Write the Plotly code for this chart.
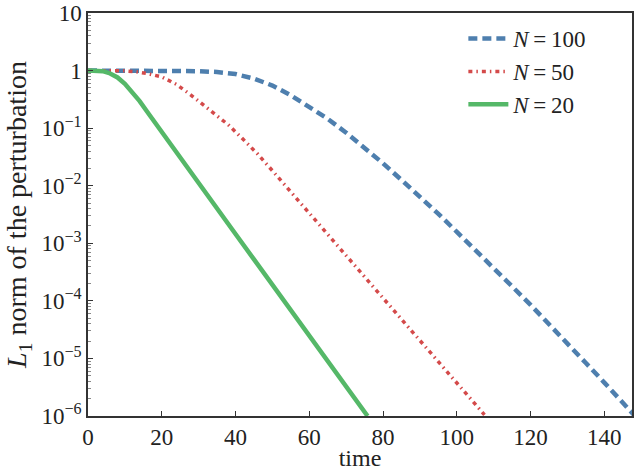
import plotly.graph_objects as go

# time samples and L1 norm values
t_n100 = [0, 10, 20, 25, 30, 35, 40, 45, 50, 55, 60, 65, 70, 75, 80, 85, 90,
          95, 100, 105, 110, 115, 120, 125, 130, 135, 140, 145, 148]
y_n100 = [1.0, 1.0, 1.0, 0.995, 0.977, 0.944, 0.871, 0.724, 0.550, 0.372,
          0.234, 0.145, 0.0832, 0.0457, 0.0245, 0.0126, 6.46e-3, 3.24e-3,
          1.58e-3, 7.76e-4, 3.72e-4, 1.78e-4, 8.51e-5, 3.98e-5, 1.82e-5,
          8.32e-6, 3.80e-6, 1.70e-6, 1.05e-6]

t_n50 = [0, 5, 10, 13, 16, 20, 24, 28, 30, 34, 38, 42, 46, 50, 55, 60, 65,
         70, 75, 80, 85, 90, 95, 100, 105, 107.5]
y_n50 = [1.0, 1.0, 0.989, 0.955, 0.891, 0.776, 0.575, 0.372, 0.295, 0.186,
         0.115, 0.0646, 0.0355, 0.0182, 7.76e-3, 3.39e-3, 1.45e-3, 6.17e-4,
         2.63e-4, 1.12e-4, 4.79e-5, 2.09e-5, 8.91e-6, 3.80e-6, 1.62e-6, 1.05e-6]

t_n20 = [0, 2, 4, 6, 8, 10, 12, 14, 16, 18, 20, 25, 30, 35, 40, 45, 50, 55,
         60, 65, 70, 75.8]
y_n20 = [1.0, 1.0, 0.977, 0.891, 0.759, 0.589, 0.427, 0.295, 0.195, 0.129,
         0.0851, 0.0302, 0.011, 3.98e-3, 1.45e-3, 5.25e-4, 1.91e-4, 6.92e-5,
         2.45e-5, 8.91e-6, 3.24e-6, 1.0e-6]

x_ticks = [0, 20, 40, 60, 80, 100, 120, 140]
y_tickvals = [10, 1, 0.1, 0.01, 1e-3, 1e-4, 1e-5, 1e-6]
y_ticktext = ["10", "1", "10<sup>−1</sup>", "10<sup>−2</sup>", "10<sup>−3</sup>",
              "10<sup>−4</sup>", "10<sup>−5</sup>", "10<sup>−6</sup>"]

minor_vals = [k * 10.0 ** e for e in range(-6, 1) for k in range(2, 10)]

font = "Liberation Serif, Times New Roman, serif"
axis_col = "#333333"

fig = go.Figure()
fig.add_trace(go.Scatter(x=t_n100, y=y_n100, mode="lines", name="<i>N</i>\u2009=\u2009100",
                         legendgroup="a",
                         line=dict(color="#4e7fae", width=4.5, dash="9px,5px")))
fig.add_trace(go.Scatter(x=t_n50, y=y_n50, mode="lines", name="<i>N</i>\u2009=\u200950",
                         legendgroup="b",
                         line=dict(color="#d44a4a", width=3.5, dash="4px,4px,1.5px,4px")))
fig.add_trace(go.Scatter(x=t_n20, y=y_n20, mode="lines", name="<i>N</i>\u2009=\u200920",
                         legendgroup="c",
                         line=dict(color="#55b868", width=4.5)))

fig.update_layout(
    width=635, height=471,
    margin=dict(l=88, r=3, t=13, b=55),
    plot_bgcolor="white", paper_bgcolor="white",
    font=dict(family=font, size=23, color="#222222"),
    showlegend=True,
    legend=dict(x=0.69, y=0.99, xanchor="left", yanchor="top",
                bgcolor="rgba(0,0,0,0)", font=dict(size=23),
                traceorder="grouped", tracegroupgap=0, itemwidth=40),
)
fig.update_xaxes(
    range=[0, 147.5], tickvals=x_ticks, ticks="inside", ticklen=5,
    tickcolor=axis_col, showline=True, linecolor=axis_col, linewidth=1.5,
    mirror=True, showgrid=False, zeroline=False, automargin=False,
    title=dict(text="time", standoff=0, font=dict(size=24)),
)
fig.update_yaxes(
    type="log", range=[-6, 1], tickvals=y_tickvals, ticktext=y_ticktext,
    ticks="inside", ticklen=5, tickcolor=axis_col, showline=True,
    linecolor=axis_col, linewidth=1.5, mirror=True, showgrid=False,
    zeroline=False, automargin=False, ticklabeloverflow="allow",
    minor=dict(tickvals=minor_vals, ticks="inside", ticklen=3,
               tickcolor="#888888", showgrid=False),
    title=dict(text="<i>L</i><sub>1</sub> norm of the perturbation", standoff=7),
)

# drop the page's default body margin so the figure fills the window
fig.write_html("out.html", config={"displayModeBar": False},
               post_script="document.body.style.margin='0';")
